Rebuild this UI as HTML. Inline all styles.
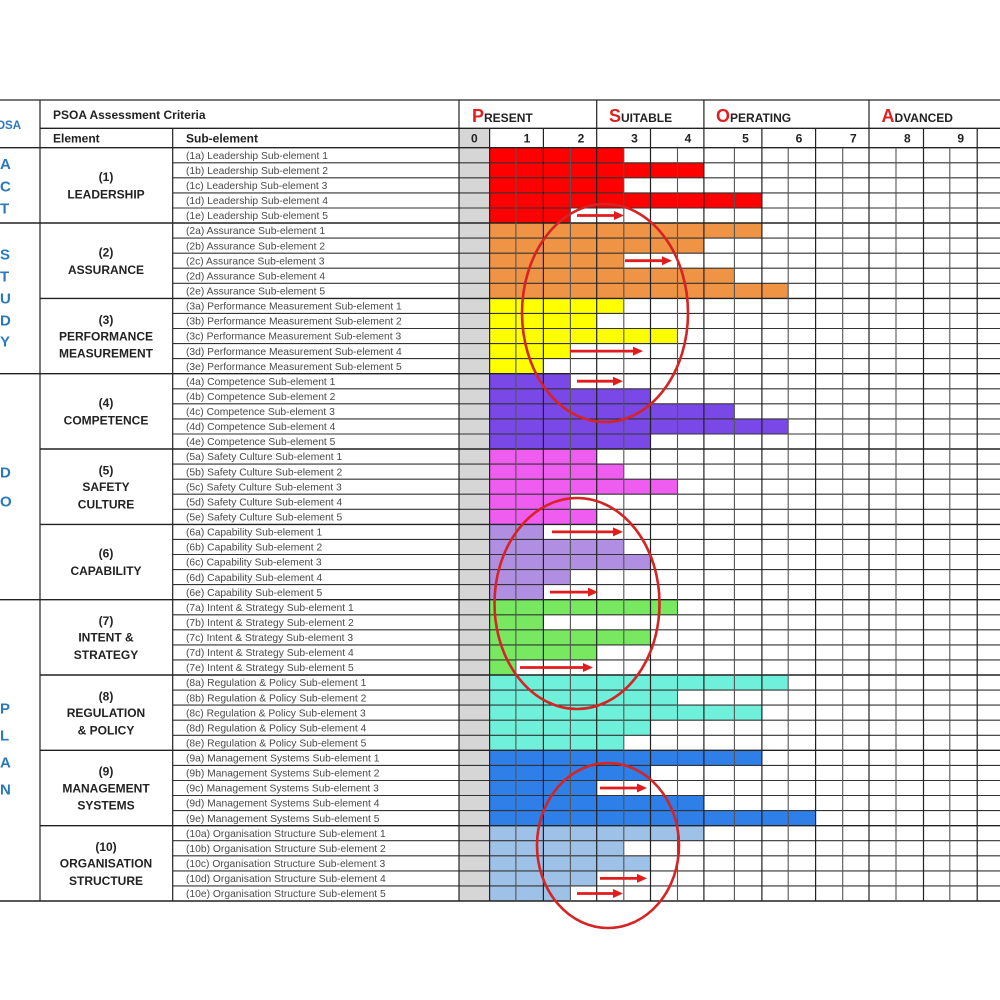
<!DOCTYPE html>
<html><head><meta charset="utf-8"><style>
html,body{margin:0;padding:0;background:#fff;}
svg{display:block;}
text{font-family:"Liberation Sans",sans-serif;}
.sub{font-size:10.3px;fill:#4a4a4a;}
.el{font-size:12px;font-weight:bold;fill:#222;text-anchor:middle;}
.hd{font-size:12px;font-weight:bold;fill:#222;}
.num{font-size:12px;font-weight:bold;fill:#222;text-anchor:middle;}
.lt{font-size:15px;font-weight:bold;fill:#2b78bd;}
</style></head><body>
<svg width="1000" height="1000" viewBox="0 0 1000 1000" xmlns="http://www.w3.org/2000/svg">
<rect width="1000" height="1000" fill="#fff"/>
<!-- gray 0 column -->
<rect x="459" y="128" width="30.6" height="773" fill="#d6d6d6"/>
<!-- bars -->
<g fill="#ff0000">
<rect x="489.6" y="147.7" width="134.2" height="15.1"/>
<rect x="489.6" y="162.8" width="214.3" height="15.1"/>
<rect x="489.6" y="177.8" width="134.2" height="15.1"/>
<rect x="489.6" y="192.9" width="272.3" height="15.1"/>
<rect x="489.6" y="208.0" width="80.8" height="15.1"/>
</g>
<g fill="#ef9445">
<rect x="489.6" y="223.0" width="272.3" height="15.1"/>
<rect x="489.6" y="238.1" width="214.3" height="15.1"/>
<rect x="489.6" y="253.2" width="134.2" height="15.1"/>
<rect x="489.6" y="268.2" width="244.8" height="15.1"/>
<rect x="489.6" y="283.3" width="298.6" height="15.1"/>
</g>
<g fill="#ffff00">
<rect x="489.6" y="298.4" width="134.2" height="15.1"/>
<rect x="489.6" y="313.4" width="107.1" height="15.1"/>
<rect x="489.6" y="328.5" width="187.9" height="15.1"/>
<rect x="489.6" y="343.6" width="80.8" height="15.1"/>
<rect x="489.6" y="358.6" width="53.8" height="15.1"/>
</g>
<g fill="#7b48e8">
<rect x="489.6" y="373.7" width="80.8" height="15.1"/>
<rect x="489.6" y="388.8" width="160.9" height="15.1"/>
<rect x="489.6" y="403.8" width="244.8" height="15.1"/>
<rect x="489.6" y="418.9" width="298.6" height="15.1"/>
<rect x="489.6" y="434.0" width="160.9" height="15.1"/>
</g>
<g fill="#ee5cf0">
<rect x="489.6" y="449.0" width="107.1" height="15.1"/>
<rect x="489.6" y="464.1" width="134.2" height="15.1"/>
<rect x="489.6" y="479.2" width="187.9" height="15.1"/>
<rect x="489.6" y="494.2" width="80.8" height="15.1"/>
<rect x="489.6" y="509.3" width="107.1" height="15.1"/>
</g>
<g fill="#b08fe3">
<rect x="489.6" y="524.4" width="53.8" height="15.1"/>
<rect x="489.6" y="539.4" width="134.2" height="15.1"/>
<rect x="489.6" y="554.5" width="160.9" height="15.1"/>
<rect x="489.6" y="569.6" width="80.8" height="15.1"/>
<rect x="489.6" y="584.6" width="53.8" height="15.1"/>
</g>
<g fill="#77e860">
<rect x="489.6" y="599.7" width="187.9" height="15.1"/>
<rect x="489.6" y="614.8" width="53.8" height="15.1"/>
<rect x="489.6" y="629.8" width="160.9" height="15.1"/>
<rect x="489.6" y="644.9" width="107.1" height="15.1"/>
<rect x="489.6" y="659.9" width="26.3" height="15.1"/>
</g>
<g fill="#6ff0da">
<rect x="489.6" y="675.0" width="298.6" height="15.1"/>
<rect x="489.6" y="690.1" width="187.9" height="15.1"/>
<rect x="489.6" y="705.1" width="272.3" height="15.1"/>
<rect x="489.6" y="720.2" width="160.9" height="15.1"/>
<rect x="489.6" y="735.3" width="134.2" height="15.1"/>
</g>
<g fill="#2e7fe8">
<rect x="489.6" y="750.3" width="272.3" height="15.1"/>
<rect x="489.6" y="765.4" width="160.9" height="15.1"/>
<rect x="489.6" y="780.5" width="107.1" height="15.1"/>
<rect x="489.6" y="795.5" width="214.3" height="15.1"/>
<rect x="489.6" y="810.6" width="326" height="15.1"/>
</g>
<g fill="#9ec1e7">
<rect x="489.6" y="825.7" width="214.3" height="15.1"/>
<rect x="489.6" y="840.7" width="134.2" height="15.1"/>
<rect x="489.6" y="855.8" width="160.9" height="15.1"/>
<rect x="489.6" y="870.9" width="107.1" height="15.1"/>
<rect x="489.6" y="885.9" width="80.8" height="15.1"/>
</g>

<!-- horizontal row lines -->
<path fill="none" stroke="#333" stroke-width="1.1" d="
M172.7 162.8H1000 M172.7 177.8H1000 M172.7 192.9H1000 M172.7 208.0H1000
M172.7 238.1H1000 M172.7 253.2H1000 M172.7 268.2H1000 M172.7 283.3H1000
M172.7 313.4H1000 M172.7 328.5H1000 M172.7 343.6H1000 M172.7 358.6H1000
M172.7 388.8H1000 M172.7 403.8H1000 M172.7 418.9H1000 M172.7 434.0H1000
M172.7 464.1H1000 M172.7 479.2H1000 M172.7 494.2H1000 M172.7 509.3H1000
M172.7 539.4H1000 M172.7 554.5H1000 M172.7 569.6H1000 M172.7 584.6H1000
M172.7 614.8H1000 M172.7 629.8H1000 M172.7 644.9H1000 M172.7 659.9H1000
M172.7 690.1H1000 M172.7 705.1H1000 M172.7 720.2H1000 M172.7 735.3H1000
M172.7 765.4H1000 M172.7 780.5H1000 M172.7 795.5H1000 M172.7 810.6H1000
M172.7 840.7H1000 M172.7 855.8H1000 M172.7 870.9H1000 M172.7 885.9H1000"/>
<!-- group lines -->
<path fill="none" stroke="#222" stroke-width="1.4" d="
M0 223.0H1000 M40 298.4H1000 M0 373.7H1000 M40 449.0H1000 M40 524.4H1000
M0 599.7H1000 M40 675.0H1000 M40 750.3H1000 M40 825.7H1000
M0 147.7H1000 M0 901H1000 M40 128.3H1000"/>
<!-- top border -->
<path d="M0 100H1000" stroke="#777" stroke-width="2"/>
<!-- vertical lines -->
<path fill="none" stroke="#222" stroke-width="1.2" d="
M40 100V901 M172.7 128.3V901 M459 100V901 M489.6 128.3V901
M596.7 100V901 M703.9 100V901 M869 100V901
M543.4 128.3V901 M650.5 128.3V901 M761.9 128.3V901 M815.6 128.3V901 M923.5 128.3V901 M977.2 128.3V901"/>
<path fill="none" stroke="#555" stroke-width="1.1" d="
M515.9 147.7V901 M570.4 147.7V901 M623.8 147.7V901 M677.5 147.7V901 M734.4 147.7V901
M788.2 147.7V901 M842.7 147.7V901 M896 147.7V901 M949.8 147.7V901"/>

<!-- header texts -->
<text class="hd" x="21" y="129" text-anchor="end" style="fill:#2b78bd;font-size:11.5px">PDSA</text>
<text class="hd" x="53" y="119">PSOA Assessment Criteria</text>
<text class="hd" x="53" y="142.5">Element</text>
<text class="hd" x="186" y="142.5">Sub-element</text>
<text class="hd" x="472" y="122"><tspan font-size="18" fill="#e02020">P</tspan>RESENT</text>
<text class="hd" x="609" y="122"><tspan font-size="18" fill="#e02020">S</tspan>UITABLE</text>
<text class="hd" x="716" y="122"><tspan font-size="18" fill="#e02020">O</tspan>PERATING</text>
<text class="hd" x="881.5" y="122"><tspan font-size="18" fill="#e02020">A</tspan>DVANCED</text>
<text class="num" x="474.3" y="142.5">0</text>
<text class="num" x="527" y="142.5">1</text>
<text class="num" x="581" y="142.5">2</text>
<text class="num" x="634.5" y="142.5">3</text>
<text class="num" x="688" y="142.5">4</text>
<text class="num" x="745.5" y="142.5">5</text>
<text class="num" x="799" y="142.5">6</text>
<text class="num" x="853.3" y="142.5">7</text>
<text class="num" x="907.3" y="142.5">8</text>
<text class="num" x="960.7" y="142.5">9</text>

<!-- left letters -->
<g class="lt">
<text class="lt" x="0" y="169">A</text>
<text class="lt" x="0" y="191.5">C</text>
<text class="lt" x="0" y="213.5">T</text>
<text class="lt" x="0" y="259.5">S</text>
<text class="lt" x="0" y="281.5">T</text>
<text class="lt" x="0" y="303.5">U</text>
<text class="lt" x="0" y="325.5">D</text>
<text class="lt" x="0" y="346.5">Y</text>
<text class="lt" x="0" y="477.5">D</text>
<text class="lt" x="0" y="506.5">O</text>
<text class="lt" x="0" y="713.5">P</text>
<text class="lt" x="0" y="740.5">L</text>
<text class="lt" x="0" y="767.5">A</text>
<text class="lt" x="0" y="794.5">N</text>
</g>

<!-- element labels -->
<text class="el" x="106" y="181">(1)</text>
<text class="el" x="106" y="198.6">LEADERSHIP</text>
<text class="el" x="106" y="256.3">(2)</text>
<text class="el" x="106" y="273.9">ASSURANCE</text>
<text class="el" x="106" y="323.8">(3)</text>
<text class="el" x="106" y="340.3">PERFORMANCE</text>
<text class="el" x="106" y="357.6">MEASUREMENT</text>
<text class="el" x="106" y="407">(4)</text>
<text class="el" x="106" y="424.6">COMPETENCE</text>
<text class="el" x="106" y="474.3">(5)</text>
<text class="el" x="106" y="491">SAFETY</text>
<text class="el" x="106" y="508.3">CULTURE</text>
<text class="el" x="106" y="557.6">(6)</text>
<text class="el" x="106" y="575.2">CAPABILITY</text>
<text class="el" x="106" y="625">(7)</text>
<text class="el" x="106" y="641.7">INTENT &amp;</text>
<text class="el" x="106" y="659">STRATEGY</text>
<text class="el" x="106" y="700.3">(8)</text>
<text class="el" x="106" y="717">REGULATION</text>
<text class="el" x="106" y="734.3">&amp; POLICY</text>
<text class="el" x="106" y="775.6">(9)</text>
<text class="el" x="106" y="792.3">MANAGEMENT</text>
<text class="el" x="106" y="809.6">SYSTEMS</text>
<text class="el" x="106" y="851">(10)</text>
<text class="el" x="106" y="867.6">ORGANISATION</text>
<text class="el" x="106" y="884.9">STRUCTURE</text>

<!-- sub-element labels -->
<g class="sub">
<text class="sub" x="186" y="158.9">(1a) Leadership Sub-element 1</text>
<text class="sub" x="186" y="174.0">(1b) Leadership Sub-element 2</text>
<text class="sub" x="186" y="189.0">(1c) Leadership Sub-element 3</text>
<text class="sub" x="186" y="204.1">(1d) Leadership Sub-element 4</text>
<text class="sub" x="186" y="219.2">(1e) Leadership Sub-element 5</text>
<text class="sub" x="186" y="234.2">(2a) Assurance Sub-element 1</text>
<text class="sub" x="186" y="249.3">(2b) Assurance Sub-element 2</text>
<text class="sub" x="186" y="264.4">(2c) Assurance Sub-element 3</text>
<text class="sub" x="186" y="279.4">(2d) Assurance Sub-element 4</text>
<text class="sub" x="186" y="294.5">(2e) Assurance Sub-element 5</text>
<text class="sub" x="186" y="309.6">(3a) Performance Measurement Sub-element 1</text>
<text class="sub" x="186" y="324.6">(3b) Performance Measurement Sub-element 2</text>
<text class="sub" x="186" y="339.7">(3c) Performance Measurement Sub-element 3</text>
<text class="sub" x="186" y="354.8">(3d) Performance Measurement Sub-element 4</text>
<text class="sub" x="186" y="369.8">(3e) Performance Measurement Sub-element 5</text>
<text class="sub" x="186" y="384.9">(4a) Competence Sub-element 1</text>
<text class="sub" x="186" y="400.0">(4b) Competence Sub-element 2</text>
<text class="sub" x="186" y="415.0">(4c) Competence Sub-element 3</text>
<text class="sub" x="186" y="430.1">(4d) Competence Sub-element 4</text>
<text class="sub" x="186" y="445.2">(4e) Competence Sub-element 5</text>
<text class="sub" x="186" y="460.2">(5a) Safety Culture Sub-element 1</text>
<text class="sub" x="186" y="475.3">(5b) Safety Culture Sub-element 2</text>
<text class="sub" x="186" y="490.4">(5c) Safety Culture Sub-element 3</text>
<text class="sub" x="186" y="505.4">(5d) Safety Culture Sub-element 4</text>
<text class="sub" x="186" y="520.5">(5e) Safety Culture Sub-element 5</text>
<text class="sub" x="186" y="535.6">(6a) Capability Sub-element 1</text>
<text class="sub" x="186" y="550.6">(6b) Capability Sub-element 2</text>
<text class="sub" x="186" y="565.7">(6c) Capability Sub-element 3</text>
<text class="sub" x="186" y="580.8">(6d) Capability Sub-element 4</text>
<text class="sub" x="186" y="595.8">(6e) Capability Sub-element 5</text>
<text class="sub" x="186" y="610.9">(7a) Intent &amp; Strategy Sub-element 1</text>
<text class="sub" x="186" y="626.0">(7b) Intent &amp; Strategy Sub-element 2</text>
<text class="sub" x="186" y="641.0">(7c) Intent &amp; Strategy Sub-element 3</text>
<text class="sub" x="186" y="656.1">(7d) Intent &amp; Strategy Sub-element 4</text>
<text class="sub" x="186" y="671.1">(7e) Intent &amp; Strategy Sub-element 5</text>
<text class="sub" x="186" y="686.2">(8a) Regulation &amp; Policy Sub-element 1</text>
<text class="sub" x="186" y="701.3">(8b) Regulation &amp; Policy Sub-element 2</text>
<text class="sub" x="186" y="716.3">(8c) Regulation &amp; Policy Sub-element 3</text>
<text class="sub" x="186" y="731.4">(8d) Regulation &amp; Policy Sub-element 4</text>
<text class="sub" x="186" y="746.5">(8e) Regulation &amp; Policy Sub-element 5</text>
<text class="sub" x="186" y="761.5">(9a) Management Systems Sub-element 1</text>
<text class="sub" x="186" y="776.6">(9b) Management Systems Sub-element 2</text>
<text class="sub" x="186" y="791.7">(9c) Management Systems Sub-element 3</text>
<text class="sub" x="186" y="806.7">(9d) Management Systems Sub-element 4</text>
<text class="sub" x="186" y="821.8">(9e) Management Systems Sub-element 5</text>
<text class="sub" x="186" y="836.9">(10a) Organisation Structure Sub-element 1</text>
<text class="sub" x="186" y="851.9">(10b) Organisation Structure Sub-element 2</text>
<text class="sub" x="186" y="867.0">(10c) Organisation Structure Sub-element 3</text>
<text class="sub" x="186" y="882.1">(10d) Organisation Structure Sub-element 4</text>
<text class="sub" x="186" y="897.1">(10e) Organisation Structure Sub-element 5</text>
</g>

<!-- arrows -->
<g stroke="#e21c1c" stroke-width="2.8" fill="none">
<path d="M577 215.5H616 M625 260.7H664 M570 351.1H635 M577 381.2H615 M552 531.9H615 M550 592.1H590 M520 667.5H585 M600 788.0H639 M600 878.4H639 M577 893.5H615"/>
</g>
<g fill="#e21c1c">
<polygon points="614,211 624,215.5 614,220"/>
<polygon points="662,256.2 672,260.7 662,265.2"/>
<polygon points="633,346.6 643,351.1 633,355.6"/>
<polygon points="613,376.7 623,381.2 613,385.7"/>
<polygon points="613,527.4 623,531.9 613,536.4"/>
<polygon points="588,587.6 598,592.1 588,596.6"/>
<polygon points="583,663 593,667.5 583,672"/>
<polygon points="637,783.5 647,788.0 637,792.5"/>
<polygon points="637,873.9 647,878.4 637,882.9"/>
<polygon points="613,889 623,893.5 613,898"/>
</g>

<!-- ellipses -->
<g fill="none" stroke="#d62424" stroke-width="2.6">
<ellipse cx="605" cy="313" rx="83" ry="109"/>
<ellipse cx="577" cy="603.5" rx="82.5" ry="105.5"/>
<ellipse cx="608" cy="845.5" rx="71" ry="82.5"/>
</g>
</svg>
</body></html>
